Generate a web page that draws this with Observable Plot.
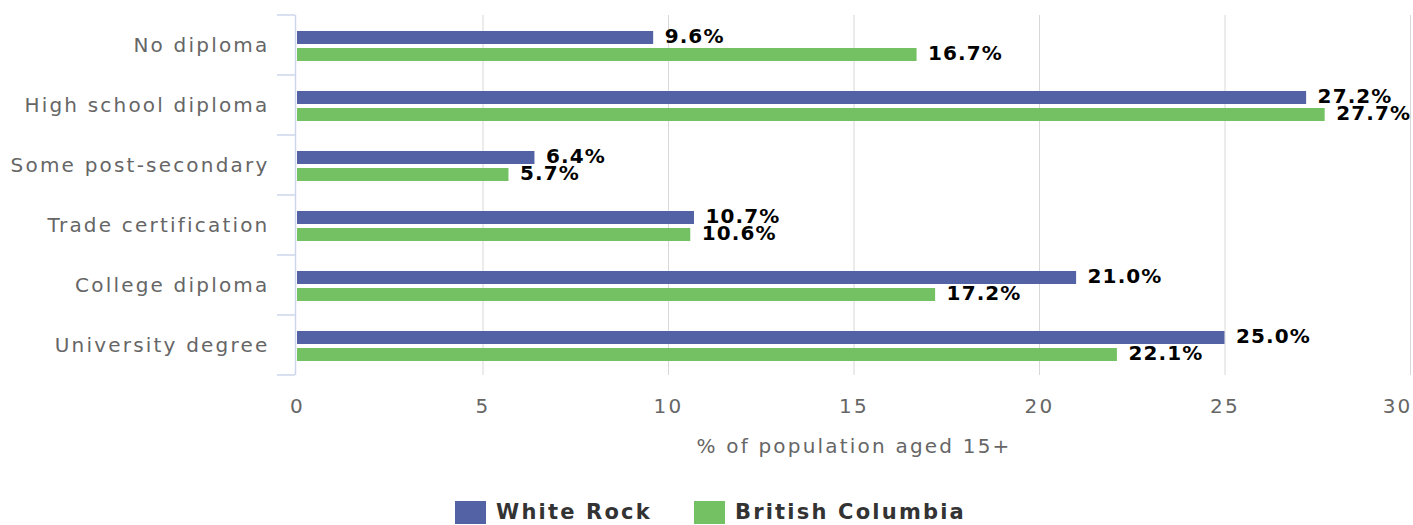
<!DOCTYPE html>
<html>
<head>
<meta charset="utf-8">
<script src="https://cdn.jsdelivr.net/npm/d3@7"></script>
<script src="https://cdn.jsdelivr.net/npm/@observablehq/plot@0.6"></script>
<style>
  html, body { margin: 0; padding: 0; background: #fff; }
  body { font-family: "DejaVu Sans", sans-serif; width: 1413px; overflow: hidden; }
  #legend { display: flex; justify-content: center; align-items: center; gap: 42px; padding-top: 10px; padding-left: 8px; }
  .item { display: flex; align-items: center; gap: 10px; font-weight: bold; font-size: 21px; letter-spacing: 2.2px; color: #333; }
  .sw { width: 31px; height: 23px; display: inline-block; }
  g.value-labels text { letter-spacing: 1.1px; }
</style>
</head>
<body>
<div id="chart"></div>
<div id="legend"></div>
<script>
const categories = ["No diploma", "High school diploma", "Some post-secondary", "Trade certification", "College diploma", "University degree"];
const seriesNames = ["White Rock", "British Columbia"];
const whiteRock = [9.6, 27.2, 6.4, 10.7, 21.0, 25.0];
const britishColumbia = [16.7, 27.7, 5.7, 10.6, 17.2, 22.1];
const xTicks = [0, 5, 10, 15, 20, 25, 30];
const xLabel = "% of population aged 15+";
const colors = ["#5362a5", "#73c162"];

const data = categories.flatMap((c, i) => [
  {category: c, series: seriesNames[0], value: whiteRock[i]},
  {category: c, series: seriesNames[1], value: britishColumbia[i]}
]);

const plot = Plot.plot({
  width: 1413,
  height: 490,
  marginLeft: 297,
  marginRight: 3,
  marginTop: 15,
  marginBottom: 115,
  style: "font-family:'DejaVu Sans',sans-serif;font-size:20px;letter-spacing:2.2px;background:#fff;",
  x: {domain: [0, 30], ticks: xTicks},
  fy: {domain: categories, padding: 0, axis: null, label: null},
  y: {domain: seriesNames, paddingInner: 4 / 18, paddingOuter: 0.778, align: 0.54, axis: null},
  color: {domain: seriesNames, range: colors},
  marks: [
    Plot.gridX(xTicks.slice(1), {stroke: "#d8d8d8", strokeOpacity: 1, strokeWidth: 1}),
    Plot.ruleX([0], {stroke: "#ccd6eb", strokeWidth: 1.5, dx: -2}),
    Plot.barX(data, {fy: "category", y: "series", x: "value", fill: "series"}),
    Plot.text(data, {
      fy: "category", y: "series", x: "value",
      text: d => d.value.toFixed(1) + "%",
      textAnchor: "start", dx: 11, dy: -1,
      fontWeight: "bold", fill: "#000", fontSize: 20, className: "value-labels"
    }),
    Plot.axisFy({anchor: "left", tickSize: 0, tickPadding: 28, fill: "#666", label: null}),
    Plot.axisX({
      anchor: "bottom", ticks: xTicks.slice(0, -1), tickSize: 0, tickPadding: 23, fill: "#666",
      label: xLabel, labelAnchor: "center", labelOffset: 77, labelArrow: "none"
    }),
    Plot.axisX({
      anchor: "bottom", ticks: xTicks.slice(-1), tickSize: 0, tickPadding: 23, fill: "#666",
      textAnchor: "end", dx: 2, label: null
    })
  ]
});

document.getElementById("chart").appendChild(plot);

const svg = d3.select(plot);
// tighter letter spacing for the value labels
svg.selectAll('g[aria-label="text"] text').style("letter-spacing", "1.1px");

// category boundary ticks on the left axis, placed with the plot's own scales
const fy = plot.scale("fy");
const xs = plot.scale("x");
const x0 = xs.apply(0) - 2;
const bounds = fy.domain.map(c => fy.apply(c)).concat([fy.apply(fy.domain[fy.domain.length - 1]) + fy.bandwidth]);
svg.append("g").selectAll("line").data(bounds).join("line")
  .attr("x1", x0 - 18).attr("x2", x0)
  .attr("y1", d => d).attr("y2", d => d)
  .attr("stroke", "#ccd6eb").attr("stroke-width", 1.5);

// legend
const legend = d3.select("#legend");
seriesNames.forEach((s, i) => {
  const item = legend.append("div").attr("class", "item");
  item.append("span").attr("class", "sw").style("background", colors[i]);
  item.append("span").text(s);
});
</script>
</body>
</html>
